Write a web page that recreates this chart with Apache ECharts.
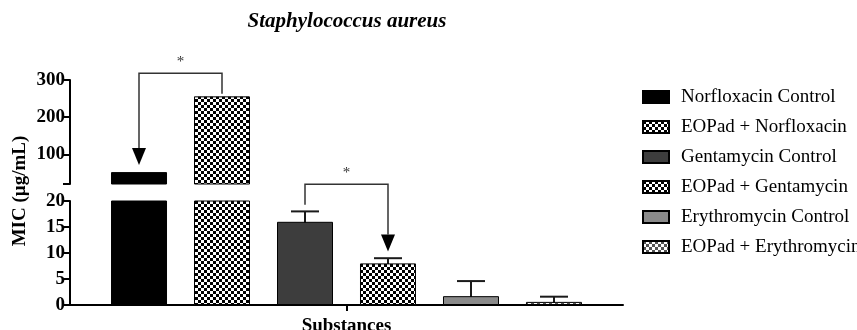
<!DOCTYPE html>
<html>
<head>
<meta charset="utf-8">
<script src="https://cdn.jsdelivr.net/npm/echarts@6/dist/echarts.min.js"></script>
<style>html,body{margin:0;padding:0;background:#fff}#c{width:857px;height:330px}</style>
</head>
<body>
<div id="c"></div>
<script>
const categories = ['Substances'];
const seriesNames = ['Norfloxacin Control', 'EOPad + Norfloxacin', 'Gentamycin Control', 'EOPad + Gentamycin', 'Erythromycin Control', 'EOPad + Erythromycin'];
const meanValues = [52, 256, 16, 8, 1.7, 0.6];
const sdValues = [0, 0, 2, 1, 2.9, 1];
const topTickValues = [20, 100, 200, 300];
const topLabelValues = [100, 200, 300];
// brackets: [fromSeries, toSeries, startValue, topValue, arrowValue, segment]
const brackets = [
  [1, 0, 263, 318, 71, 'top'],
  [2, 3, 19.3, 23.2, 10.3, 'bottom']
];

const SERIF = "'Liberation Serif','Times New Roman',serif";
const BAR_W = 56, BAR_GAP = 27;

function checker(fg) {
  const c = document.createElement('canvas');
  c.width = 6; c.height = 6;
  const g = c.getContext('2d');
  g.fillStyle = '#fff'; g.fillRect(0, 0, 6, 6);
  g.fillStyle = fg; g.fillRect(0, 0, 3, 3); g.fillRect(3, 3, 3, 3);
  return c;
}
const fills = [
  '#000000',
  { image: checker('#000'), repeat: 'repeat' },
  '#3d3d3d',
  { image: checker('#000'), repeat: 'repeat' },
  '#8a8a8a',
  { image: checker('#555'), repeat: 'repeat' }
];

const chart = echarts.init(document.getElementById('c'), null, { renderer: 'canvas' });

function offsetOf(idx) { return (idx - (seriesNames.length - 1) / 2) * (BAR_W + BAR_GAP); }

function renderError(params, api) {
  const idx = api.value(3), mean = api.value(1), sd = api.value(2);
  if (!sd) return null;
  const pTop = api.coord([0, mean + sd]);
  const pBot = api.coord([0, mean - sd]);
  const x = pTop[0] + offsetOf(idx);
  const cap = 14;
  const st = { stroke: '#1a1a1a', lineWidth: 2 };
  return { type: 'group', children: [
    { type: 'line', shape: { x1: x, y1: pTop[1], x2: x, y2: pBot[1] }, style: st },
    { type: 'line', shape: { x1: x - cap, y1: pTop[1], x2: x + cap, y2: pTop[1] }, style: st },
    { type: 'line', shape: { x1: x - cap, y1: pBot[1], x2: x + cap, y2: pBot[1] }, style: st }
  ]};
}

function renderBracket(params, api) {
  const from = api.value(0), to = api.value(1);
  const ys = api.coord([0, api.value(2)])[1];
  const yt = api.coord([0, api.value(3)])[1];
  const ya = api.coord([0, api.value(4)])[1];
  const base = api.coord([0, api.value(3)])[0];
  const x1 = base + offsetOf(from), x2 = base + offsetOf(to);
  const st = { stroke: '#333', lineWidth: 1.5, fill: null };
  const ah = 17, aw = 7;
  return { type: 'group', children: [
    { type: 'polyline', shape: { points: [[x1, ys], [x1, yt], [x2, yt], [x2, ya - ah]] }, style: st },
    { type: 'polygon', shape: { points: [[x2 - aw, ya - ah], [x2 + aw, ya - ah], [x2, ya]] }, style: { fill: '#000' } },
    { type: 'text', x: (x1 + x2) / 2, y: yt - 11, style: { text: '*', font: '15px ' + SERIF, fill: '#333', align: 'center', verticalAlign: 'middle' } }
  ]};
}

const series = [];
seriesNames.forEach((name, i) => {
  [0, 1].forEach(g => {
    series.push({
      name: name, type: 'bar', xAxisIndex: g, yAxisIndex: g,
      barWidth: BAR_W, barGap: (BAR_GAP / BAR_W * 100).toFixed(1) + '%',
      data: [meanValues[i]], clip: true,
      itemStyle: { color: fills[i], borderColor: '#000', borderWidth: 1 },
      emphasis: { disabled: true }, animation: false
    });
  });
});
series.push({
  type: 'custom', xAxisIndex: 0, yAxisIndex: 0, clip: true, animation: false, silent: true,
  renderItem: renderError,
  data: meanValues.map((m, i) => [0, m, sdValues[i], i])
});
brackets.forEach(b => {
  const g = b[5] === 'top' ? 1 : 0;
  series.push({
    type: 'custom', xAxisIndex: g, yAxisIndex: g, clip: false, animation: false, silent: true, z: 5,
    renderItem: renderBracket, data: [[b[0], b[1], b[2], b[3], b[4]]]
  });
});

const axisLine = { show: true, lineStyle: { color: '#000', width: 2 } };
const labelStyle = { color: '#000', fontFamily: SERIF, fontWeight: 'bold', fontSize: 19 };

chart.setOption({
  animation: false,
  backgroundColor: '#fff',
  grid: [
    { left: 70, right: 234, top: 201, height: 104, containLabel: false, outerBoundsMode: 'none' },
    { left: 70, right: 234, top: 80, height: 104, containLabel: false, outerBoundsMode: 'none' }
  ],
  xAxis: [
    { gridIndex: 0, type: 'category', data: categories, axisLine: axisLine,
      axisTick: { show: true, alignWithLabel: true, length: 6, lineStyle: { color: '#000', width: 2 } },
      axisLabel: { show: false }, name: 'Substances', nameLocation: 'middle', nameGap: 12,
      nameTextStyle: labelStyle, splitLine: { show: false } },
    { gridIndex: 1, type: 'category', data: categories, show: false }
  ],
  yAxis: [
    { gridIndex: 0, type: 'value', min: 0, max: 20, interval: 5, axisLine: axisLine,
      axisTick: { show: true, length: 7, lineStyle: { color: '#000', width: 2 } },
      axisLabel: Object.assign({ margin: 5 }, labelStyle), splitLine: { show: false } },
    { gridIndex: 1, type: 'value', min: 20, max: 300, axisLine: axisLine,
      axisTick: { show: true, length: 7, customValues: topTickValues, lineStyle: { color: '#000', width: 2 } },
      axisLabel: Object.assign({ margin: 5, customValues: topLabelValues }, labelStyle), splitLine: { show: false } }
  ],
  legend: {
    orient: 'vertical', left: 642, top: 87, padding: 0, itemWidth: 26, itemHeight: 12, itemGap: 10,
    icon: 'rect', selectedMode: false,
    textStyle: { color: '#000', fontFamily: SERIF, fontSize: 19, lineHeight: 20, padding: [0, 0, 0, 7] },
    data: seriesNames
  },
  graphic: [
    { type: 'text', x: 347, y: 22, style: { text: 'Staphylococcus aureus', font: 'italic bold 21px ' + SERIF, fill: '#000', align: 'center', verticalAlign: 'middle' } },
    { type: 'text', x: 20, y: 191, rotation: Math.PI / 2, style: { text: 'MIC (µg/mL)', font: 'bold 19px ' + SERIF, fill: '#000', align: 'center', verticalAlign: 'middle' } }
  ],
  series: series
});
</script>
</body>
</html>
